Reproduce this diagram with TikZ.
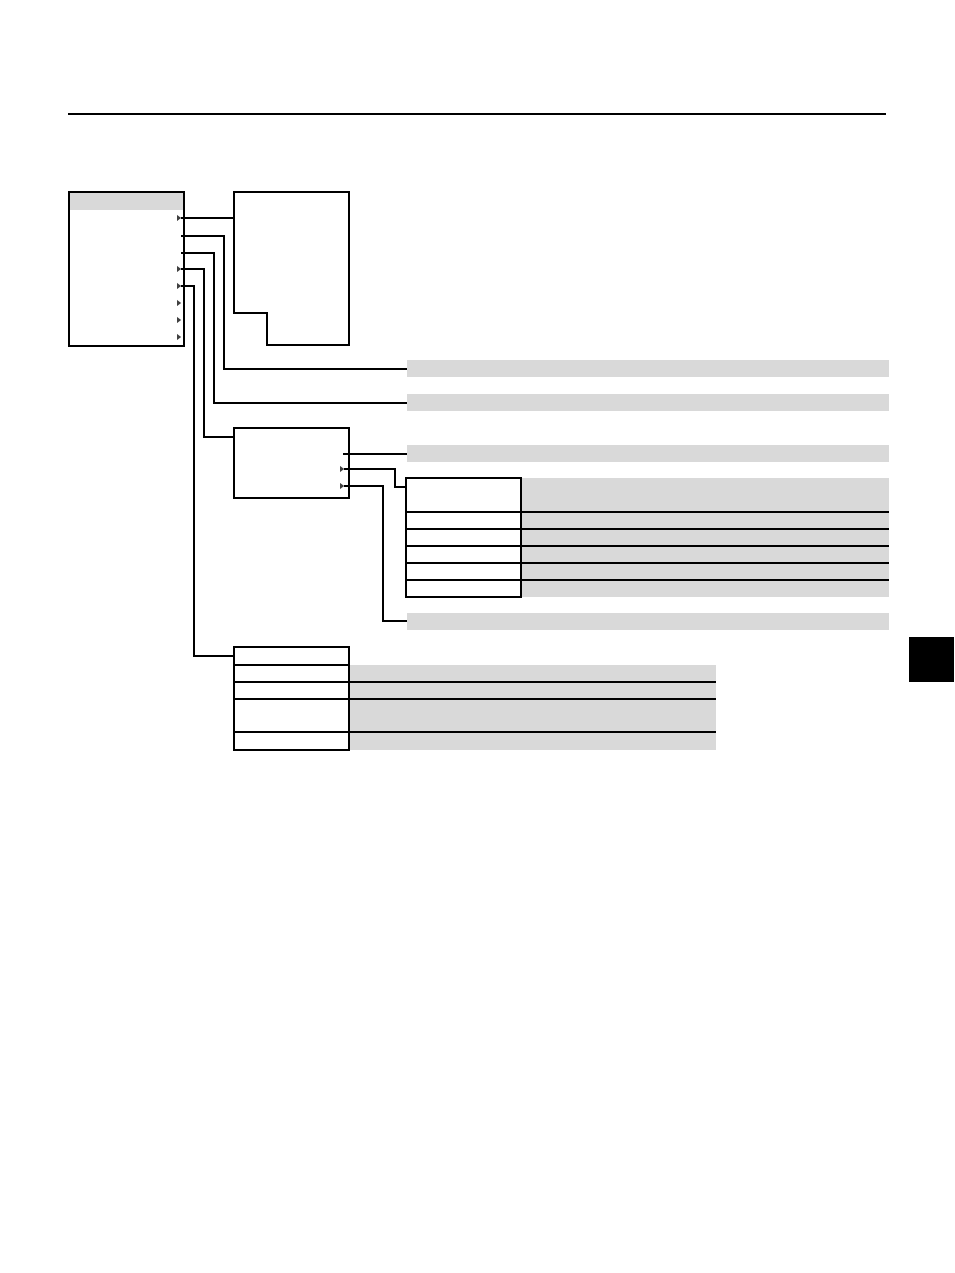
\documentclass[tikz,border=0pt]{standalone}
\usepackage{tikz}
\usetikzlibrary{calc}
\definecolor{barfill}{gray}{0.85}
\definecolor{tipgray}{gray}{0.25}
\def\menutip(#1,#2){\fill[tipgray] (#1-4,#2-3) -- (#1,#2) -- (#1-4,#2+3) -- cycle;}
\begin{document}
\begin{tikzpicture}[x=0.02cm, y=-0.02cm, line width=0.75pt]
			%%%%% START %%%%%
			\useasboundingbox (0,0) rectangle (954,1273);
			
			\draw (68,114) -- (886,114);
			
			% main menu
			\fill[barfill] (69,192) rectangle (184,210);
			\draw (69,192) rectangle (184,346);
			\coordinate (r1) at (181,218);
			\coordinate (r2) at (181,236);
			\coordinate (r3) at (181,253);
			\coordinate (r4) at (181,269);
			\coordinate (r5) at (181,286);
			\menutip(181,218);
			\menutip(181,269);
			\menutip(181,286);
			\menutip(181,303);
			\menutip(181,320);
			\menutip(181,337);
			
			% first sub menu
			\draw (234,192) -- (349,192) -- (349,345) -- (267,345) -- (267,313) -- (234,313) -- cycle;
			\coordinate (s1) at (234,218);
			
			% gray bars
			\fill[barfill] (407,360) rectangle (889,377);
			\fill[barfill] (407,394) rectangle (889,411);
			\fill[barfill] (407,445) rectangle (889,462);
			\fill[barfill] (407,613) rectangle (889,630);
			\coordinate (b1) at (407,369);
			\coordinate (b2) at (407,403);
			\coordinate (b3) at (407,454);
			\coordinate (b4) at (407,621);
			
			% second sub menu
			\draw (234,428) rectangle (349,498);
			\coordinate (s2) at (234,437);
			\coordinate (q1) at (343,454);
			\coordinate (q2) at (344,469);
			\coordinate (q3) at (344,486);
			\menutip(344,469);
			\menutip(344,486);
			
			% table one
			\fill[barfill] (521,478) rectangle (889,597);
			\draw (406,478) rectangle (521,597);
			\foreach \y in {512,529,546,563,580}
				\draw (406,\y) -- (889,\y);
			\coordinate (t1) at (406,487);
			
			% table two
			\fill[barfill] (349,665) rectangle (716,750);
			\draw (234,647) rectangle (349,750);
			\draw (234,665) -- (349,665);
			\foreach \y in {682,699,732}
				\draw (234,\y) -- (716,\y);
			\coordinate (t2) at (234,656);
			
			% connectors
			\draw (r1) -- (s1);
			\draw (r2) -- ++(43,0) |- (b1);
			\draw (r3) -- ++(33,0) |- (b2);
			\draw (r4) -- ++(23,0) |- (s2);
			\draw (r5) -- ++(13,0) |- (t2);
			\draw (q1) -- (b3);
			\draw (q2) -- ++(51,0) |- (t1);
			\draw (q3) -- ++(39,0) |- (b4);
			
			\fill[black] (909,637) rectangle (954,682);
			%%%%% END %%%%%
\end{tikzpicture}
\end{document}
